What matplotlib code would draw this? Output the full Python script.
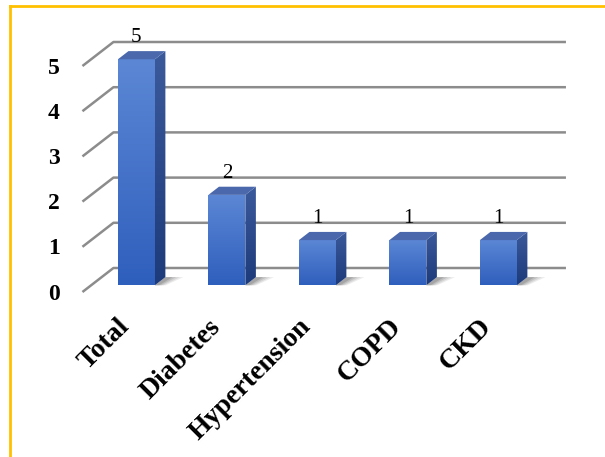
import numpy as np
import matplotlib
matplotlib.use("Agg")
import matplotlib.pyplot as plt
from matplotlib.patches import Polygon
from matplotlib.lines import Line2D
from matplotlib.colors import LinearSegmentedColormap

# data
categories = ["Total", "Diabetes", "Hypertension", "COPD", "CKD"]
counts = [5, 2, 1, 1, 1]
yticks = [0, 1, 2, 3, 4, 5]

plt.rcParams['font.family'] = ['Liberation Serif', 'DejaVu Serif']

# pixel scale of one category / one unit, used for the fake 3d view
PX_X, PX_Y = 90.5, 45.2
DX, DY = 31 / PX_X, 24 / PX_Y      # depth offset (floor front vs back wall)
HW = 0.204                         # bar half width
D_FRONT, D_BACK = 0.72, 0.38       # bar depth inside the floor


def proj(x, v, d):
    return x - d * DX, v - d * DY


fig = plt.figure(figsize=(6.05, 4.57), dpi=100)
ax = fig.add_axes([0, 0, 1, 1])
ax.axis('off')

x0, x1 = -0.5, len(categories) - 0.5
gcol = '#8c8c8c'
for v in yticks:
    bx, by = proj(x0, v, 0)
    ex, ey = proj(x1, v, 0)
    fx, fy = proj(x0, v, 1)
    ax.plot([fx, bx, ex], [fy, by, ey], color=gcol, lw=1.8, zorder=1,
            solid_capstyle='butt')
    ax.annotate(str(v), (fx, fy), xytext=(-16.5, -1.5), textcoords='offset points',
                ha='right', va='center', fontsize=17, fontweight='bold')

cm_front = LinearSegmentedColormap.from_list('f', ['#2f5fbd', '#5c87d5'])
cm_side = LinearSegmentedColormap.from_list('s', ['#1d3a7a', '#3b5a9c'])
grad = np.linspace(0, 1, 100).reshape(-1, 1)


def face(pts, cmap=None, color=None, z=3):
    pts = np.array(pts)
    poly = Polygon(pts, closed=True, facecolor=color if color else 'none',
                   edgecolor='none', zorder=z)
    ax.add_patch(poly)
    if cmap is not None:
        im = ax.imshow(grad, cmap=cmap, origin='lower', aspect='auto',
                       extent=[pts[:, 0].min(), pts[:, 0].max(),
                               pts[:, 1].min(), pts[:, 1].max()],
                       zorder=z)
        im.set_clip_path(poly)


for i, (cat, val) in enumerate(zip(categories, counts)):
    # shadow on the floor
    for k, a in enumerate([0.10, 0.12, 0.15, 0.2]):
        w = 0.2 - k * 0.04
        sh = [proj(i + HW, 0, D_BACK), proj(i + HW + w, 0, D_BACK),
              proj(i + HW + w * 0.6, 0, D_FRONT), proj(i + HW, 0, D_FRONT)]
        ax.add_patch(Polygon(sh, closed=True, facecolor='#404040', alpha=a,
                             edgecolor='none', zorder=2))
    front = [proj(i - HW, 0, D_FRONT), proj(i + HW, 0, D_FRONT),
             proj(i + HW, val, D_FRONT), proj(i - HW, val, D_FRONT)]
    side = [proj(i + HW, 0, D_FRONT), proj(i + HW, 0, D_BACK),
            proj(i + HW, val, D_BACK), proj(i + HW, val, D_FRONT)]
    top = [proj(i - HW, val, D_FRONT), proj(i + HW, val, D_FRONT),
           proj(i + HW, val, D_BACK), proj(i - HW, val, D_BACK)]
    face(side, cmap=cm_side)
    face(front, cmap=cm_front)
    face(top, color='#4a68ab')

    lx, ly = proj(i, val, D_FRONT)
    ax.annotate(str(val), (lx, ly), xytext=(0, 12.5), textcoords='offset points',
                ha='center', va='baseline', fontsize=15)

    tx, ty = proj(i, 0, 1)
    ax.annotate(cat, (tx, ty), xytext=(-7.5, -16), textcoords='offset points',
                ha='right', va='top', rotation=45, rotation_mode='anchor',
                fontsize=20, fontweight='bold')

# view limits so that the wall sits where the original puts it
ax.set_xlim(-158.7 / PX_X, (605 - 158.7) / PX_X)
ax.set_ylim(-189 / PX_Y, 268 / PX_Y)

# gold frame (left and top)
gold = '#ffc000'
fig.add_artist(Line2D([10 / 605, 10 / 605], [0, 1 - 6 / 457], color=gold, lw=2))
fig.add_artist(Line2D([10 / 605, 1], [1 - 6 / 457, 1 - 6 / 457], color=gold, lw=2))

fig.savefig('out.png', dpi=100)
